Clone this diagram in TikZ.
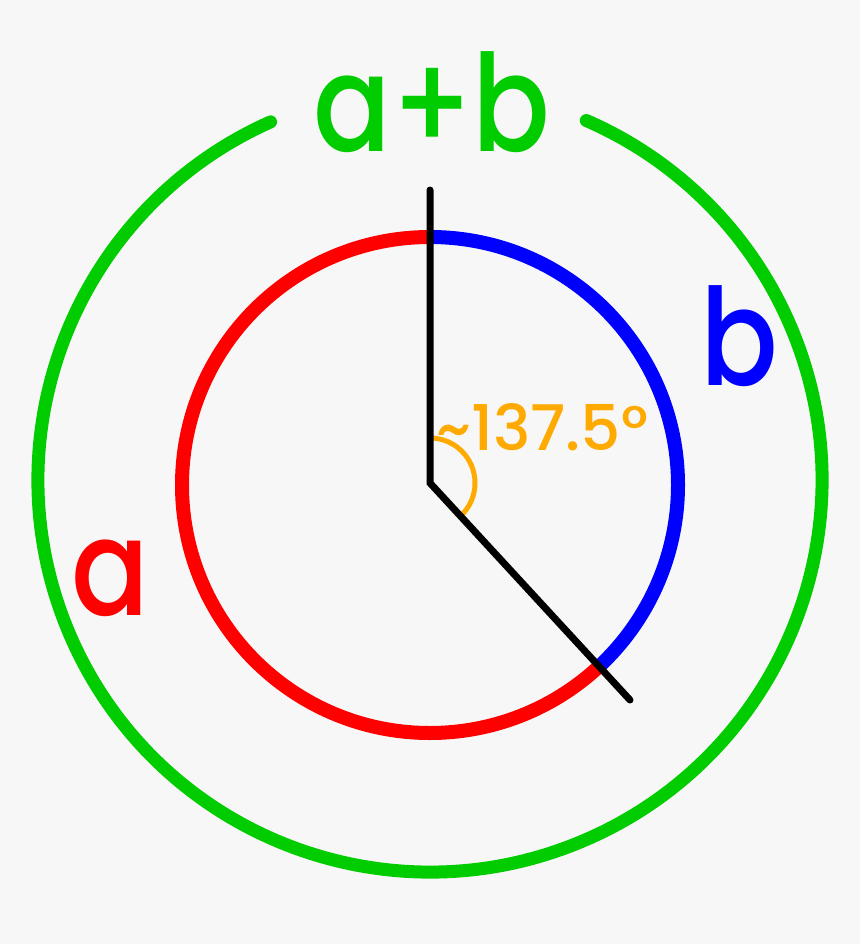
\documentclass[tikz,border=0pt]{standalone}
\usepackage{fontspec}
\setmainfont{Poppins}
\newfontfamily\narrowfont[FakeStretch=0.85]{Poppins Medium}
\newfontfamily\medfont{Poppins Medium}
\definecolor{bg}{HTML}{F7F7F7}
\definecolor{gr}{HTML}{00CC00}
\definecolor{rd}{HTML}{FF0000}
\definecolor{bl}{HTML}{0000FF}
\definecolor{og}{HTML}{FFAA00}
\begin{document}
\begin{tikzpicture}[x=1pt,y=-1pt,
  lbl/.style={inner sep=0pt,anchor=base},
  big/.style={font=\narrowfont\fontsize{135}{135}\selectfont},
  ring/.style={line width=14pt},
  ptr/.style={line width=7pt,line cap=round,black}]
\fill[bg] (0,0) rectangle (860,944);
\useasboundingbox (0,0) rectangle (860,944);
\coordinate (c) at (430,485);
\coordinate (pc) at (430,483);
\coordinate (oc) at (430,480);
\coordinate (top) at (430,190);
\coordinate (tip) at (630,700);
% outer green arc (y axis points down, so angles are negated)
\draw[gr,line width=13pt,line cap=round] ([shift={(-114:392)}]oc) arc[start angle=-114,end angle=-426.5,radius=392];
% inner circle
\draw[rd,ring] ([shift={(-90:248)}]c) arc[start angle=-90,end angle=-312.5,radius=248];
\draw[bl,ring] ([shift={(-90:248)}]c) arc[start angle=-90,end angle=47.5,radius=248];
% orange angle
\draw[og,line width=5pt] ([shift={(-90:45)}]pc) arc[start angle=-90,end angle=47.5,radius=45];
% pointer
\draw[ptr,line join=miter] (top) -- (pc) -- (tip);
% labels
\node[lbl,text=gr,big] (ab) at (432,152) {a+b};
\node[lbl,text=bl,big] (b) at (739,385) {b};
\node[lbl,text=rd,big] (a) at (110,615) {a};
\node[inner sep=0pt,anchor=base west,text=og,font=\medfont\fontsize{63}{63}\selectfont] (ang) at (436,450) {\char"7E 137.5°};
\end{tikzpicture}
\end{document}
